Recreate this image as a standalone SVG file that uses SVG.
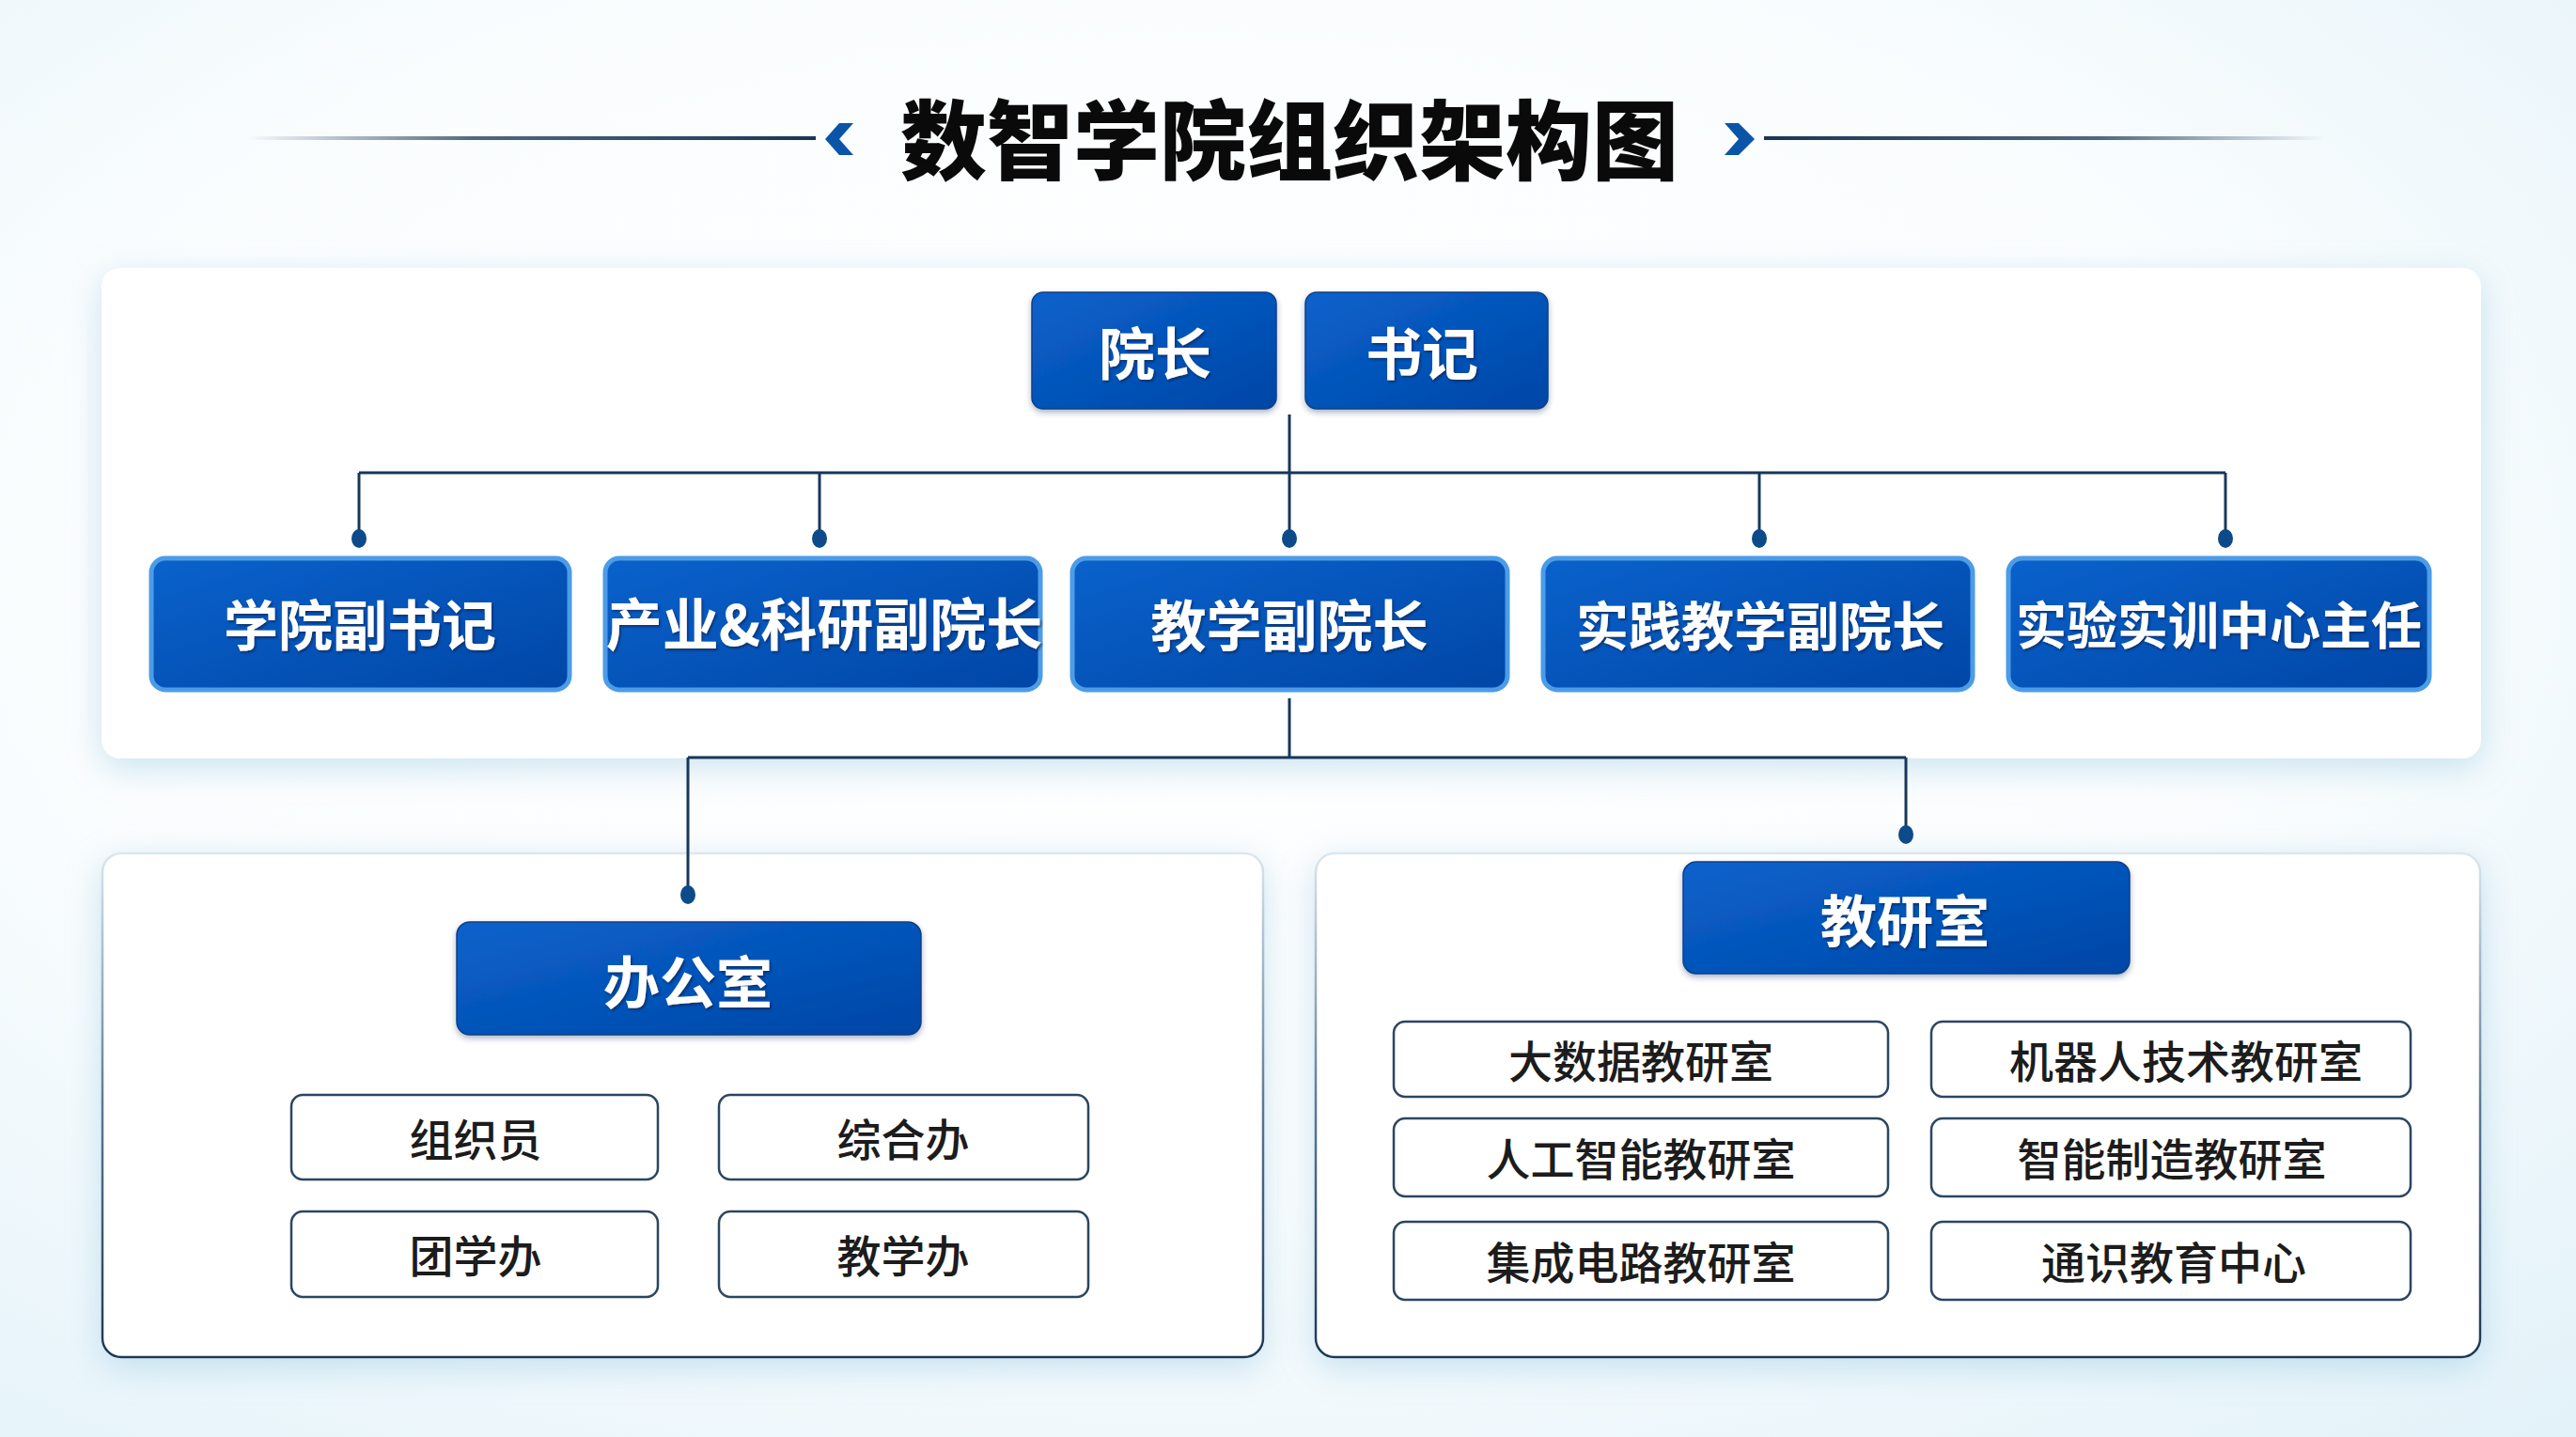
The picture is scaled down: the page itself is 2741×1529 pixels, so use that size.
<svg xmlns="http://www.w3.org/2000/svg" width="2741" height="1529" viewBox="0 0 2741 1529">
<defs>
  <radialGradient id="bg" cx="45%" cy="40%" r="80%">
    <stop offset="0" stop-color="#ffffff"/>
    <stop offset="0.55" stop-color="#fafdfe"/>
    <stop offset="1" stop-color="#e3f2f9"/>
  </radialGradient>
  <linearGradient id="lineL" gradientUnits="userSpaceOnUse" x1="262" y1="0" x2="868" y2="0">
    <stop offset="0" stop-color="#1b3556" stop-opacity="0"/>
    <stop offset="0.4" stop-color="#1b3556" stop-opacity="0.75"/>
    <stop offset="1" stop-color="#1b3556"/>
  </linearGradient>
  <linearGradient id="lineR" gradientUnits="userSpaceOnUse" x1="1877" y1="0" x2="2473" y2="0">
    <stop offset="0" stop-color="#1b3556"/>
    <stop offset="0.6" stop-color="#1b3556" stop-opacity="0.75"/>
    <stop offset="1" stop-color="#1b3556" stop-opacity="0"/>
  </linearGradient>
  <linearGradient id="blue" x1="0" y1="0" x2="1" y2="1">
    <stop offset="0" stop-color="#0a62cc"/>
    <stop offset="1" stop-color="#0046a6"/>
  </linearGradient>
  <linearGradient id="panelStroke" x1="0" y1="0" x2="0" y2="1">
    <stop offset="0" stop-color="#dbe7f0"/>
    <stop offset="0.5" stop-color="#5d7892"/>
    <stop offset="1" stop-color="#1c3756"/>
  </linearGradient>
  <filter id="shadow" x="-10%" y="-15%" width="120%" height="135%">
    <feDropShadow dx="0" dy="10" stdDeviation="18" flood-color="#8fc3de" flood-opacity="0.45"/>
  </filter>
  <filter id="tshadow" x="-10%" y="-20%" width="120%" height="140%">
    <feDropShadow dx="1.5" dy="2" stdDeviation="1.2" flood-color="#0a2350" flood-opacity="0.7"/>
  </filter>
  <filter id="bshadow" x="-10%" y="-20%" width="120%" height="140%">
    <feDropShadow dx="0" dy="3" stdDeviation="3" flood-color="#0a2a5c" flood-opacity="0.35"/>
  </filter>
</defs>
<style>
  .title{font-family:"Noto Sans CJK SC","Noto Sans CJK TC",sans-serif;font-weight:900;font-size:92px;fill:#0a0a0a}
  .panel{fill:#ffffff}
  .bpanel{fill:#ffffff;stroke:url(#panelStroke);stroke-width:2.5}
  .b1{fill:url(#blue);stroke:#0b3f86;stroke-width:1.5}
  .b2{fill:url(#blue);stroke:#4c9ce8;stroke-width:5}
  .wt{font-family:"Noto Sans CJK SC","Noto Sans CJK TC",sans-serif;font-weight:700;fill:#ffffff;text-anchor:middle;dominant-baseline:central}
  .sub{fill:#ffffff;stroke:#2b4660;stroke-width:2.5}
  .st{font-family:"Noto Sans CJK SC","Noto Sans CJK TC",sans-serif;font-weight:500;font-size:47px;fill:#1c1c1c;text-anchor:middle;dominant-baseline:central}
  .ln{stroke:#17375a;stroke-width:3;fill:none}
  .dot{fill:#0d4a8a}
  .chev{fill:#0b55a8}
</style>

<rect x="0" y="0" width="2741" height="1529" fill="url(#bg)"/>

<g id="title">
  <rect x="262" y="145" width="606" height="4" fill="url(#lineL)"/>
  <rect x="1877" y="145" width="596" height="4" fill="url(#lineR)"/>
  <polygon class="chev" points="893,131 908,131 893,148 908,165 893,165 878,148"/>
  <polygon class="chev" points="1850,131 1835,131 1850,148 1835,165 1850,165 1867,148"/>
  <text class="title" x="1372" y="143" text-anchor="middle" dominant-baseline="central">数智学院组织架构图</text>
</g>

<g id="panels">
  <rect id="panel-top" class="panel" x="108" y="285" width="2532" height="522" rx="20" filter="url(#shadow)"/>
  <rect id="panel-office" class="bpanel" x="109" y="908" width="1235" height="536" rx="20" filter="url(#shadow)"/>
  <rect id="panel-research" class="bpanel" x="1400" y="908" width="1239" height="536" rx="20" filter="url(#shadow)"/>
</g>

<g id="connectors">
  <path class="ln" d="M1372 441 V573"/>
  <path class="ln" d="M382 503 H2368"/>
  <path class="ln" d="M382 503 V573"/>
  <path class="ln" d="M872 503 V573"/>
  <path class="ln" d="M1872 503 V573"/>
  <path class="ln" d="M2368 503 V573"/>
  <path class="ln" d="M1372 743 V806"/>
  <path class="ln" d="M732 806 H2028"/>
  <path class="ln" d="M732 806 V952"/>
  <path class="ln" d="M2028 806 V888"/>
  <ellipse class="dot" cx="382" cy="573" rx="8" ry="10"/>
  <ellipse class="dot" cx="872" cy="573" rx="8" ry="10"/>
  <ellipse class="dot" cx="1372" cy="573" rx="8" ry="10"/>
  <ellipse class="dot" cx="1872" cy="573" rx="8" ry="10"/>
  <ellipse class="dot" cx="2368" cy="573" rx="8" ry="10"/>
  <ellipse class="dot" cx="732" cy="952" rx="8" ry="10"/>
  <ellipse class="dot" cx="2028" cy="888" rx="8" ry="10"/>
</g>

<g id="n-dean">
  <rect class="b1" x="1098" y="311" width="260" height="124" rx="12" filter="url(#bshadow)"/>
  <text class="wt" x="1229" y="372" font-size="60" filter="url(#tshadow)">院长</text>
</g>
<g id="n-secretary">
  <rect class="b1" x="1389" y="311" width="258" height="124" rx="12" filter="url(#bshadow)"/>
  <text class="wt" x="1513" y="372" font-size="60" filter="url(#tshadow)">书记</text>
</g>

<g id="n-deputy-secretary">
  <rect class="b2" x="161" y="594" width="445" height="140" rx="15"/>
  <text class="wt" x="383" y="662" font-size="58" filter="url(#tshadow)">学院副书记</text>
</g>
<g id="n-research-dean">
  <rect class="b2" x="644" y="594" width="463" height="140" rx="15"/>
  <text class="wt" x="877" y="660" font-size="60" filter="url(#tshadow)">产业&amp;科研副院长</text>
</g>
<g id="n-teaching-dean">
  <rect class="b2" x="1141" y="594" width="463" height="140" rx="15"/>
  <text class="wt" x="1372" y="662" font-size="59" filter="url(#tshadow)">教学副院长</text>
</g>
<g id="n-practice-dean">
  <rect class="b2" x="1642" y="594" width="457" height="140" rx="15"/>
  <text class="wt" x="1873" y="662" font-size="56" filter="url(#tshadow)">实践教学副院长</text>
</g>
<g id="n-lab-director">
  <rect class="b2" x="2137" y="594" width="448" height="140" rx="15"/>
  <text class="wt" x="2361" y="662" font-size="54" filter="url(#tshadow)">实验实训中心主任</text>
</g>

<g id="n-office">
  <rect class="b1" x="486" y="981" width="494" height="120" rx="14" filter="url(#bshadow)"/>
  <text class="wt" x="732" y="1041" font-size="60" filter="url(#tshadow)">办公室</text>
</g>
<g id="n-organizer">
  <rect class="sub" x="310" y="1165" width="390" height="90" rx="12"/>
  <text class="st" x="506" y="1209">组织员</text>
</g>
<g id="n-general">
  <rect class="sub" x="765" y="1165" width="393" height="90" rx="12"/>
  <text class="st" x="961" y="1209">综合办</text>
</g>
<g id="n-youth">
  <rect class="sub" x="310" y="1289" width="390" height="91" rx="12"/>
  <text class="st" x="506" y="1333">团学办</text>
</g>
<g id="n-teaching-office">
  <rect class="sub" x="765" y="1289" width="393" height="91" rx="12"/>
  <text class="st" x="961" y="1333">教学办</text>
</g>

<g id="n-research">
  <rect class="b1" x="1791" y="917" width="475" height="119" rx="14" filter="url(#bshadow)"/>
  <text class="wt" x="2027" y="976" font-size="60" filter="url(#tshadow)">教研室</text>
</g>
<g id="n-bigdata">
  <rect class="sub" x="1483" y="1087" width="526" height="80" rx="12"/>
  <text class="st" x="1746" y="1126">大数据教研室</text>
</g>
<g id="n-robot">
  <rect class="sub" x="2055" y="1087" width="510" height="80" rx="12"/>
  <text class="st" x="2326" y="1126">机器人技术教研室</text>
</g>
<g id="n-ai">
  <rect class="sub" x="1483" y="1190" width="526" height="83" rx="12"/>
  <text class="st" x="1746" y="1230">人工智能教研室</text>
</g>
<g id="n-manufacturing">
  <rect class="sub" x="2055" y="1190" width="510" height="83" rx="12"/>
  <text class="st" x="2311" y="1230">智能制造教研室</text>
</g>
<g id="n-ic">
  <rect class="sub" x="1483" y="1300" width="526" height="83" rx="12"/>
  <text class="st" x="1746" y="1340">集成电路教研室</text>
</g>
<g id="n-general-edu">
  <rect class="sub" x="2055" y="1300" width="510" height="83" rx="12"/>
  <text class="st" x="2313" y="1340">通识教育中心</text>
</g>
</svg>
